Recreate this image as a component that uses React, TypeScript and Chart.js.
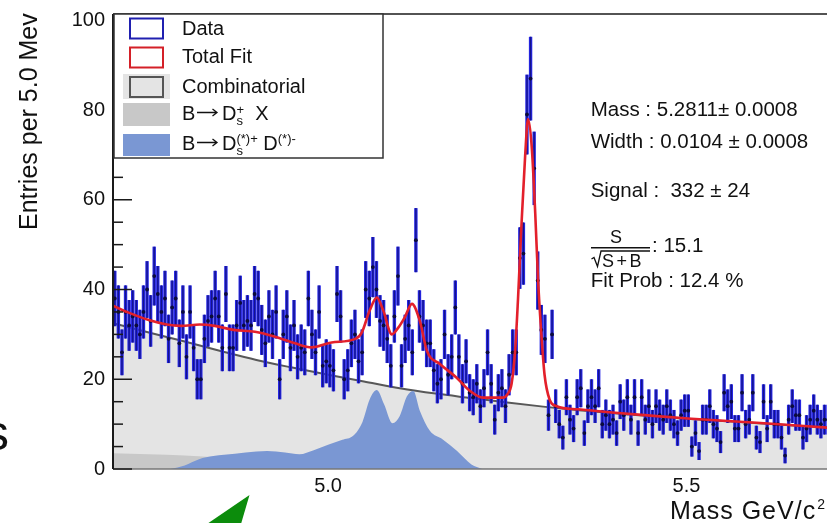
import React, { useEffect, useRef } from "react";
import { Chart, registerables } from "chart.js";

Chart.register(...registerables);

const WIDTH = 827;
const HEIGHT = 523;
const FONT = '"Liberation Sans", Arial, Helvetica, sans-serif';

// Histogram binning: 5 MeV bins from 4.70 GeV/c^2
const BIN_LOW = 4.7;
const BIN_WIDTH = 0.005;

// Entries per bin
const COUNTS = [
  38, 35, 26, 35, 32, 34, 32, 30, 35, 40, 33, 43, 39, 35, 38, 29, 36, 38, 28, 35,
  25, 35, 27, 20, 20, 29, 33, 34, 38, 34, 27, 39, 27, 27, 32, 37, 32, 33, 32, 39,
  38, 31, 28, 34, 30, 35, 20, 30, 34, 27, 32, 25, 27, 26, 38, 30, 26, 35, 23, 24,
  23, 22, 39, 34, 20, 22, 28, 30, 24, 26, 40, 38, 45, 40, 33, 32, 29, 23, 34, 43,
  23, 29, 32, 26, 51, 34, 32, 28, 28, 22, 19, 20, 30, 21, 25, 36, 25, 19, 24, 17,
  16, 19, 14, 18, 26, 19, 11, 17, 18, 14, 21, 26, 26, 47, 48, 79, 87, 67, 42, 31,
  29, 12, 30, 14, 10, 7, 16, 11, 9, 16, 18, 8, 14, 16, 14, 18, 10, 12, 10, 11,
  8, 15, 12, 16, 11, 16, 8, 16, 11, 14, 10, 14, 12, 11, 14, 12, 10, 8, 12, 13,
  13, 5, 8, 4, 11, 11, 14, 10, 9, 6, 17, 14, 15, 9, 9, 17, 10, 11, 17, 7,
  6, 15, 9, 15, 10, 10, 7, 3, 11, 14, 12, 12, 7, 9, 11, 13, 11, 10, 11, 11,
];

// Total fit curve
const FIT_MASS = [
  4.7, 4.721, 4.75, 4.775, 4.795, 4.821, 4.842, 4.868, 4.898, 4.926,
  4.954, 4.977, 5.005, 5.038, 5.047, 5.058, 5.068, 5.077, 5.089, 5.098,
  5.107, 5.117, 5.128, 5.138, 5.156, 5.179, 5.198, 5.216, 5.244, 5.25,
  5.256, 5.261, 5.265, 5.27, 5.275, 5.279, 5.284, 5.289, 5.293, 5.298,
  5.302, 5.309, 5.319, 5.349, 5.396, 5.442, 5.507, 5.598, 5.697,
];
const FIT_VALUE = [
  36.4, 34.9, 33.2, 32.2, 31.9, 32.2, 31.9, 31.0, 30.6, 29.5,
  28.0, 27.1, 28.2, 29.0, 30.4, 35.3, 38.2, 35.3, 30.0, 31.5,
  33.8, 36.8, 33.0, 26.3, 23.4, 20.4, 17.4, 15.9, 15.9, 16.6,
  19.0, 26.5, 38.0, 55.0, 70.0, 78.0, 72.0, 57.0, 42.0, 29.0,
  21.0, 15.5, 14.0, 13.3, 12.6, 12.0, 11.2, 10.3, 9.2,
];

// Combinatorial background
const COMB_MASS = [
  4.7, 4.75, 4.8, 4.85, 4.9, 4.95, 5.0, 5.05, 5.1, 5.15, 5.2,
  5.25, 5.3, 5.35, 5.4, 5.45, 5.5, 5.55, 5.6, 5.65, 5.7,
];
const COMB_VALUE = [
  32.5, 30.4, 28.4, 26.3, 24.3, 22.6, 21.0, 19.5, 18.0, 16.8, 15.8,
  14.8, 13.9, 13.1, 12.4, 11.8, 11.2, 10.7, 10.2, 9.7, 9.2,
];

// B -> Ds+ X component
const DSX_MASS = [4.7, 4.75, 4.8, 4.85, 4.9, 5.0, 5.1, 5.2, 5.25];
const DSX_VALUE = [3.5, 3.3, 3.0, 2.5, 2.0, 1.2, 0.6, 0.2, 0];

// B -> Ds(*)+ D(*)- component
const DSD_MASS = [
  4.78, 4.8, 4.82, 4.84, 4.87, 4.9, 4.915, 4.94, 4.96, 4.98,
  5.0, 5.02, 5.035, 5.048, 5.058, 5.068, 5.078, 5.09, 5.1, 5.11,
  5.119, 5.128, 5.142, 5.16, 5.18, 5.2, 5.215,
];
const DSD_VALUE = [
  0, 0.8, 2.2, 2.9, 3.4, 3.9, 4.0, 3.7, 3.3, 4.2,
  5.4, 6.5, 7.4, 10.5, 15.5, 17.6, 14.5, 10.2, 11.8, 16.2,
  17.4, 13.0, 8.5, 6.6, 4.0, 1.0, 0,
];

const X_MIN = 4.7;
const X_MAX = 5.696;
const Y_MAX = 101.4;
const X_TICKS = [5.0, 5.5];
const Y_TICKS = [0, 20, 40, 60, 80, 100];
const Y_MINOR_STEP = 5;

const Y_TITLE = "Entries per 5.0 Mev";
const X_TITLE = "Mass GeV/c";
const FIT_LINES = [
  { text: "Mass : 5.2811\u00b1 0.0008", y: 116 },
  { text: "Width : 0.0104 \u00b1 0.0008", y: 148.3 },
  { text: "Signal :  332 \u00b1 24", y: 196.7 },
  { text: "Fit Prob : 12.4 %", y: 286.7 },
];
const SIGNIFICANCE = ": 15.1";

const COLORS = {
  text: "#111111",
  data: "#2626e4",
  dataCore: "#14148a",
  marker: "#0b0b3c",
  fit: "#e3202b",
  comb: "#e4e4e4",
  combLine: "#585858",
  dsx: "#c8c8c8",
  dsd: "#7a97d3",
};

const DATA_INDEX = 1;

type Run = { t: string; size: number; dy?: number; stack?: boolean };

function drawRuns(ctx: CanvasRenderingContext2D, x: number, y: number, runs: Run[]) {
  let cx = x;
  let pending = 0;
  for (const r of runs) {
    ctx.font = `${r.size}px ${FONT}`;
    ctx.fillText(r.t, cx, y + (r.dy ?? 0));
    const w = ctx.measureText(r.t).width;
    if (r.stack) {
      pending = Math.max(pending, w);
    } else {
      cx += Math.max(w, pending);
      pending = 0;
    }
  }
}

// "B ->" prefix of the decay labels, with a drawn arrow
function drawDecayPrefix(ctx: CanvasRenderingContext2D, baseline: number) {
  ctx.font = `20px ${FONT}`;
  ctx.fillText("B", 182, baseline);
  const ay = baseline - 7.5;
  ctx.save();
  ctx.strokeStyle = COLORS.text;
  ctx.lineWidth = 1.3;
  ctx.beginPath();
  ctx.moveTo(197, ay);
  ctx.lineTo(217, ay);
  ctx.moveTo(212.5, ay - 3.5);
  ctx.lineTo(217, ay);
  ctx.lineTo(212.5, ay + 3.5);
  ctx.stroke();
  ctx.restore();
}

const toPoints = (xs: number[], ys: number[]) => xs.map((x, i) => ({ x, y: ys[i] }));

const decorPlugin = {
  id: "decor",
  beforeDatasetDraw(chart: any, args: any) {
    if (args.index !== DATA_INDEX) return;
    const { ctx, scales } = chart;
    const xs = scales.x;
    const ys = scales.y;
    const bars = COUNTS.map((n, i) => {
      const e = Math.sqrt(n);
      return {
        px: xs.getPixelForValue(BIN_LOW + (i + 0.5) * BIN_WIDTH),
        top: ys.getPixelForValue(n + e),
        bot: ys.getPixelForValue(Math.max(n - e, 0)),
      };
    });
    ctx.save();
    ctx.beginPath();
    ctx.rect(chart.chartArea.left, chart.chartArea.top, chart.chartArea.right - chart.chartArea.left, chart.chartArea.bottom - chart.chartArea.top);
    ctx.clip();
    ctx.lineCap = "butt";
    ctx.strokeStyle = COLORS.data;
    ctx.lineWidth = 3.4;
    for (const b of bars) {
      ctx.beginPath();
      ctx.moveTo(b.px, b.top);
      ctx.lineTo(b.px, b.bot);
      ctx.stroke();
    }
    ctx.strokeStyle = COLORS.dataCore;
    ctx.lineWidth = 1.3;
    for (const b of bars) {
      ctx.beginPath();
      ctx.moveTo(b.px, b.top);
      ctx.lineTo(b.px, b.bot);
      ctx.stroke();
    }
    ctx.restore();
  },
  afterDatasetsDraw(chart: any) {
    const { ctx, chartArea, scales } = chart;
    const { left, top, right, bottom } = chartArea;
    ctx.save();
    // frame
    ctx.strokeStyle = "#777777";
    ctx.lineWidth = 1.6;
    ctx.beginPath();
    ctx.moveTo(left, bottom);
    ctx.lineTo(right, bottom);
    ctx.stroke();
    ctx.strokeStyle = "#1a1a1a";
    ctx.lineWidth = 1.5;
    ctx.beginPath();
    ctx.moveTo(left, top);
    ctx.lineTo(right, top);
    ctx.stroke();
    ctx.lineWidth = 2;
    ctx.beginPath();
    ctx.moveTo(left, top);
    ctx.lineTo(left, bottom);
    ctx.stroke();
    // inward ticks on the y axis
    ctx.lineWidth = 1.5;
    for (let v = 0; v <= Y_TICKS[Y_TICKS.length - 1]; v += Y_MINOR_STEP) {
      const py = scales.y.getPixelForValue(v);
      const len = Y_TICKS.includes(v) ? 19 : 10;
      ctx.beginPath();
      ctx.moveTo(left, py);
      ctx.lineTo(left + len, py);
      ctx.stroke();
    }
    ctx.restore();
  },
  afterDraw(chart: any) {
    const { ctx } = chart;
    ctx.save();
    ctx.fillStyle = COLORS.text;
    ctx.textAlign = "left";
    ctx.textBaseline = "alphabetic";

    // legend box
    ctx.fillStyle = "#ffffff";
    ctx.fillRect(114, 14, 269, 144);
    ctx.strokeStyle = "#333333";
    ctx.lineWidth = 1.5;
    ctx.strokeRect(114, 14, 269, 144);

    ctx.lineWidth = 2;
    ctx.strokeStyle = "#2020b0";
    ctx.strokeRect(130, 18.5, 33, 20);
    ctx.strokeStyle = "#d42028";
    ctx.strokeRect(130, 47.5, 33, 20);
    ctx.fillStyle = COLORS.comb;
    ctx.fillRect(123, 74, 47, 25);
    ctx.strokeStyle = "#555555";
    ctx.strokeRect(130, 77, 33, 20);
    ctx.fillStyle = COLORS.dsx;
    ctx.fillRect(123, 103, 47, 23);
    ctx.fillStyle = COLORS.dsd;
    ctx.fillRect(123, 134, 47, 22);

    ctx.fillStyle = COLORS.text;
    ctx.font = `20px ${FONT}`;
    ctx.fillText("Data", 182, 35);
    ctx.fillText("Total Fit", 182, 63.3);
    ctx.fillText("Combinatorial", 182, 93);
    drawDecayPrefix(ctx, 120);
    drawRuns(ctx, 222, 120, [
      { t: "D", size: 20 },
      { t: "s", size: 13, dy: 5, stack: true },
      { t: "+", size: 13, dy: -6 },
      { t: "  X", size: 20 },
    ]);
    drawDecayPrefix(ctx, 150);
    drawRuns(ctx, 222, 150, [
      { t: "D", size: 20 },
      { t: "s", size: 13, dy: 4.5, stack: true },
      { t: "(*)+", size: 13, dy: -7 },
      { t: " D", size: 20 },
      { t: "(*)-", size: 13, dy: -7 },
    ]);

    // fit results
    ctx.font = `20.5px ${FONT}`;
    for (const line of FIT_LINES) ctx.fillText(line.text, 590.7, line.y);
    ctx.fillText(SIGNIFICANCE, 652, 251.7);
    ctx.font = `18px ${FONT}`;
    ctx.textAlign = "center";
    ctx.fillText("S", 616, 243.3);
    ctx.textAlign = "left";
    (ctx as any).letterSpacing = "2.5px";
    ctx.fillText("S+B", 602, 266.5);
    (ctx as any).letterSpacing = "0px";
    ctx.strokeStyle = COLORS.text;
    ctx.lineWidth = 1.6;
    ctx.beginPath();
    ctx.moveTo(591, 247.8);
    ctx.lineTo(650, 247.8);
    ctx.stroke();
    ctx.lineWidth = 1.3;
    ctx.beginPath();
    ctx.moveTo(591.5, 259);
    ctx.lineTo(594, 257.5);
    ctx.lineTo(597.5, 266.5);
    ctx.lineTo(601, 251);
    ctx.lineTo(650, 251);
    ctx.stroke();

    // axis titles
    ctx.save();
    ctx.font = `25px ${FONT}`;
    ctx.translate(37, 230);
    ctx.rotate(-Math.PI / 2);
    ctx.fillText(Y_TITLE, 0, 0);
    ctx.restore();

    ctx.font = `25px ${FONT}`;
    (ctx as any).letterSpacing = "1px";
    ctx.fillText(X_TITLE, 670, 519.3);
    const tw = ctx.measureText(X_TITLE).width;
    (ctx as any).letterSpacing = "0px";
    ctx.font = `14px ${FONT}`;
    ctx.fillText("2", 670 + tw + 1, 509);

    // slide fragments around the plot
    ctx.font = `50px ${FONT}`;
    ctx.fillText("s", -16, 450);
    ctx.fillStyle = "#0c8c0c";
    ctx.beginPath();
    ctx.moveTo(249.5, 495);
    ctx.lineTo(207, 524);
    ctx.lineTo(241, 524);
    ctx.closePath();
    ctx.fill();
    ctx.restore();
  },
};

export default function App() {
  const canvasRef = useRef<HTMLCanvasElement | null>(null);

  useEffect(() => {
    const canvas = canvasRef.current;
    if (!canvas) return;
    Chart.defaults.font.family = FONT;
    Chart.defaults.color = COLORS.text;

    const dataPoints = COUNTS.map((n, i) => ({ x: BIN_LOW + (i + 0.5) * BIN_WIDTH, y: n }));

    const chart = new Chart(canvas, {
      type: "line",
      data: {
        datasets: [
          {
            label: "Total Fit",
            data: toPoints(FIT_MASS, FIT_VALUE),
            borderColor: COLORS.fit,
            borderWidth: 2.6,
            pointRadius: 0,
            fill: false,
            cubicInterpolationMode: "monotone",
            order: 0,
          },
          {
            label: "Data",
            data: dataPoints,
            showLine: false,
            pointRadius: 1.9,
            pointBackgroundColor: COLORS.marker,
            pointBorderWidth: 0,
            order: 1,
          },
          {
            label: "B \u2192 Ds(*)+ D(*)-",
            data: toPoints(DSD_MASS, DSD_VALUE),
            borderColor: "rgba(0,0,0,0)",
            borderWidth: 0,
            backgroundColor: COLORS.dsd,
            fill: "origin",
            pointRadius: 0,
            cubicInterpolationMode: "monotone",
            order: 2,
          },
          {
            label: "B \u2192 Ds+ X",
            data: toPoints(DSX_MASS, DSX_VALUE),
            borderColor: "rgba(0,0,0,0)",
            borderWidth: 0,
            backgroundColor: COLORS.dsx,
            fill: "origin",
            pointRadius: 0,
            cubicInterpolationMode: "monotone",
            order: 3,
          },
          {
            label: "Combinatorial",
            data: toPoints(COMB_MASS, COMB_VALUE),
            borderColor: COLORS.combLine,
            borderWidth: 2,
            backgroundColor: COLORS.comb,
            fill: "origin",
            pointRadius: 0,
            cubicInterpolationMode: "monotone",
            order: 4,
          },
        ],
      },
      options: {
        animation: false,
        responsive: false,
        devicePixelRatio: 1,
        events: [],
        layout: { autoPadding: false, padding: { top: 14, left: 0, right: 0, bottom: 0 } },
        plugins: {
          legend: { display: false },
          tooltip: { enabled: false },
          title: { display: false },
        },
        scales: {
          x: {
            type: "linear",
            min: X_MIN,
            max: X_MAX,
            grid: { display: false, drawTicks: false },
            border: { display: false },
            afterBuildTicks: (s: any) => {
              s.ticks = X_TICKS.map((v) => ({ value: v }));
            },
            afterFit: (s: any) => {
              s.height = 54;
              s.paddingLeft = 0;
              s.paddingRight = 0;
            },
            ticks: {
              padding: 5,
              autoSkip: false,
              maxRotation: 0,
              color: COLORS.text,
              font: { family: FONT, size: 20 },
              callback: (v: any) => Number(v).toFixed(1),
            },
          },
          y: {
            type: "linear",
            min: 0,
            max: Y_MAX,
            grid: { display: false, drawTicks: false },
            border: { display: false },
            afterBuildTicks: (s: any) => {
              s.ticks = Y_TICKS.map((v) => ({ value: v }));
            },
            afterFit: (s: any) => {
              s.width = 113;
              s.paddingTop = 0;
              s.paddingBottom = 0;
            },
            ticks: {
              padding: 8,
              color: COLORS.text,
              font: { family: FONT, size: 20 },
              callback: (v: any) => String(v),
            },
          },
        },
      },
      plugins: [decorPlugin],
    } as any);

    return () => chart.destroy();
  }, []);

  return (
    <div style={{ position: "fixed", left: 0, top: 0, width: WIDTH, height: HEIGHT, background: "#ffffff", overflow: "hidden" }}>
      <canvas ref={canvasRef} width={WIDTH} height={HEIGHT} style={{ display: "block" }} />
    </div>
  );
}
